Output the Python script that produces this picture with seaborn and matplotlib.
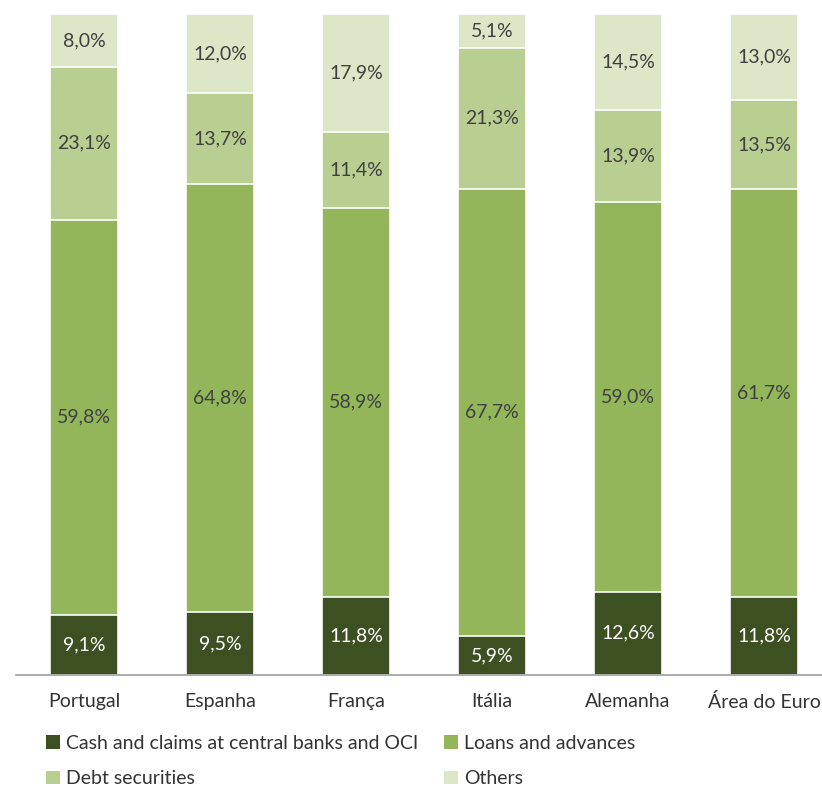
import numpy as np
import pandas as pd
import matplotlib
matplotlib.use("Agg")
import matplotlib.pyplot as plt
from matplotlib.patches import Patch
import seaborn as sns

categories = ["Portugal", "Espanha", "França", "Itália", "Alemanha", "Área do Euro"]
cash = [9.1, 9.5, 11.8, 5.9, 12.6, 11.8]
loans = [59.8, 64.8, 58.9, 67.7, 59.0, 61.7]
debt = [23.1, 13.7, 11.4, 21.3, 13.9, 13.5]
others = [8.0, 12.0, 17.9, 5.1, 14.5, 13.0]

series_names = ["Cash and claims at central banks and OCI", "Loans and advances",
                "Debt securities", "Others"]
colors = ["#3d5021", "#93b65a", "#b8cf91", "#dde7c7"]
label_colors = ["white", "#404040", "#404040", "#404040"]

sns.set_style("white")
plt.rcParams["font.family"] = ["Lato", "DejaVu Sans"]

fig = plt.figure(figsize=(8.22, 7.89), dpi=100)
ax = fig.add_axes([16 / 822, 114 / 789, 816 / 822, 661 / 789])

layers = [cash, loans, debt, others]
cum = np.cumsum(np.array(layers), axis=0)

# Draw cumulative totals from the top layer down so each segment shows through
for i in range(len(layers) - 1, -1, -1):
    df = pd.DataFrame({"cat": categories, "val": cum[i]})
    sns.barplot(data=df, x="cat", y="val", color=colors[i], width=0.5,
                edgecolor="white", linewidth=1.2, saturation=1, ax=ax)

for i, vals in enumerate(layers):
    base = cum[i] - np.array(vals)
    for j, v in enumerate(vals):
        ax.text(j, base[j] + v / 2, f"{v:.1f}%".replace(".", ","),
                ha="center", va="center", fontsize=14, color=label_colors[i])

ax.set_xlim(-0.5, 5.5)
ax.set_ylim(0, 100)
ax.set_xlabel("")
ax.set_ylabel("")
ax.set_yticks([])
for s in ["top", "right", "left"]:
    ax.spines[s].set_visible(False)
ax.spines["bottom"].set_color("#a6a6a6")
ax.spines["bottom"].set_linewidth(1.3)

ax.set_xticks(range(len(categories)))
ax.set_xticklabels(categories, fontsize=14, color="#333333")
ax.tick_params(axis="x", which="major", length=0, pad=13)
ax.set_xticks(np.arange(-0.5, 6.0, 1.0), minor=True)
ax.tick_params(axis="x", which="minor", length=6, width=1.3, color="#a6a6a6",
               direction="out")

handles = [Patch(facecolor=colors[k], edgecolor="none", label=series_names[k])
           for k in [0, 2, 1, 3]]
fig.legend(handles=handles, ncol=2, loc="upper left",
           bbox_to_anchor=(46 / 822, 1 - 735 / 789), frameon=False,
           fontsize=14, handlelength=0.7, handleheight=0.7,
           handletextpad=0.35, columnspacing=1.3, labelspacing=0.95,
           labelcolor="#333333", borderaxespad=0, borderpad=0)

fig.savefig("out.png", dpi=100)
